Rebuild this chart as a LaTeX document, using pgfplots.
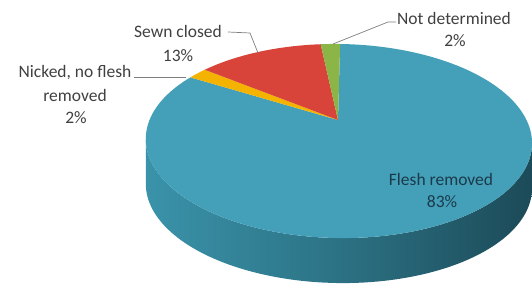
\documentclass[border=0pt]{standalone}
\usepackage{pgfplots}
\pgfplotsset{compat=1.18}
\usepackage{pgfplotstable}
\usepackage{fontspec}
\setmainfont{Carlito}

\definecolor{cBlue}{HTML}{44A0B8}
\definecolor{cRed}{HTML}{D8433A}
\definecolor{cYel}{HTML}{F5B301}
\definecolor{cGrn}{HTML}{8CB547}
\definecolor{sideL}{HTML}{3A93AA}
\definecolor{sideM}{HTML}{2C7284}
\definecolor{sideR}{HTML}{1C4A58}
\definecolor{lblgray}{HTML}{404040}
\definecolor{lbldark}{HTML}{1B3A4B}
\definecolor{leader}{HTML}{7F7F7F}

% slices, clockwise from the top
\pgfplotstableread{
label value
Flesh 83
Nicked 2
Sewn 13
NotDet 2
}\piedata

\pgfplotstablegetelem{0}{value}\of\piedata \let\vA\pgfplotsretval
\pgfplotstablegetelem{1}{value}\of\piedata \let\vB\pgfplotsretval
\pgfplotstablegetelem{2}{value}\of\piedata \let\vC\pgfplotsretval
\pgfplotstablegetelem{3}{value}\of\piedata \let\vD\pgfplotsretval

\pgfmathsetmacro{\tS}{88}
\pgfmathsetmacro{\tA}{\tS-3.6*\vA}
\pgfmathsetmacro{\tB}{\tA-3.6*\vB}
\pgfmathsetmacro{\tC}{\tB-3.6*\vC}
\pgfmathsetmacro{\tD}{\tC-3.6*\vD}

\newcommand\lblfont{\fontsize{17.5}{22}\selectfont}

\begin{document}
\begin{tikzpicture}
\begin{axis}[
  hide axis,
  x=1pt, y=1pt,
  xmin=0, xmax=532, ymin=-284, ymax=0,
  scale only axis,
  declare function={
    pX(\t)=338+(188.5*cos(\t)-4*sin(\t))/(1+0.2166*sin(\t));
    pY(\t)=-120+92.5*sin(\t)/(1+0.2166*sin(\t));
    wth(\s)=ifthenelse(\s<=1,191.3+155*\s,346.3-155*(\s-1));
    woff(\s)=ifthenelse(\s<=1,0,45);
  },
]
% side wall
\addplot[draw=none, left color=sideL, right color=sideR, middle color=sideM,
  domain=0:2, samples=201, variable=\s]
  ({pX(wth(\s))},{pY(wth(\s))-woff(\s)}) -- cycle;
% top face slices
\addplot[draw=none, fill=cBlue, domain=\tA:\tS, samples=160, variable=\t]
  ({pX(\t)},{pY(\t)}) -- (338,-120) -- cycle;
\addplot[draw=none, fill=cYel, domain=\tB:\tA, samples=10, variable=\t]
  ({pX(\t)},{pY(\t)}) -- (338,-120) -- cycle;
\addplot[draw=none, fill=cRed, domain=\tC:\tB, samples=40, variable=\t]
  ({pX(\t)},{pY(\t)}) -- (338,-120) -- cycle;
\addplot[draw=none, fill=cGrn, domain=\tD:\tC, samples=10, variable=\t]
  ({pX(\t)},{pY(\t)}) -- (338,-120) -- cycle;

% leader lines
\draw[leader, line width=0.7pt] (228,-32) -- (250,-33) -- (258,-53);
\draw[leader, line width=0.7pt] (134,-77) -- (186,-77);
\draw[leader, line width=0.7pt] (396,-22) -- (388,-22) -- (333,-44);

% labels
\node[anchor=base, font=\lblfont, text=lblgray] at (178,-38) {Sewn closed};
\node[anchor=base, font=\lblfont, text=lblgray] at (178,-62) {13\%};
\node[anchor=base, font=\lblfont, text=lblgray] at (75,-78) {Nicked, no flesh};
\node[anchor=base, font=\lblfont, text=lblgray] at (75,-102) {removed};
\node[anchor=base, font=\lblfont, text=lblgray] at (76,-124) {2\%};
\node[anchor=base, font=\lblfont, text=lblgray] at (454,-25) {Not determined};
\node[anchor=base, font=\lblfont, text=lblgray] at (455,-47) {2\%};
\node[anchor=base, font=\lblfont, text=lbldark] at (441,-185) {Flesh removed};
\node[anchor=base, font=\lblfont, text=lbldark] at (442,-207) {83\%};
\end{axis}
\pgfresetboundingbox
\path (current axis.south west) rectangle (current axis.north east);
\end{tikzpicture}
\end{document}
